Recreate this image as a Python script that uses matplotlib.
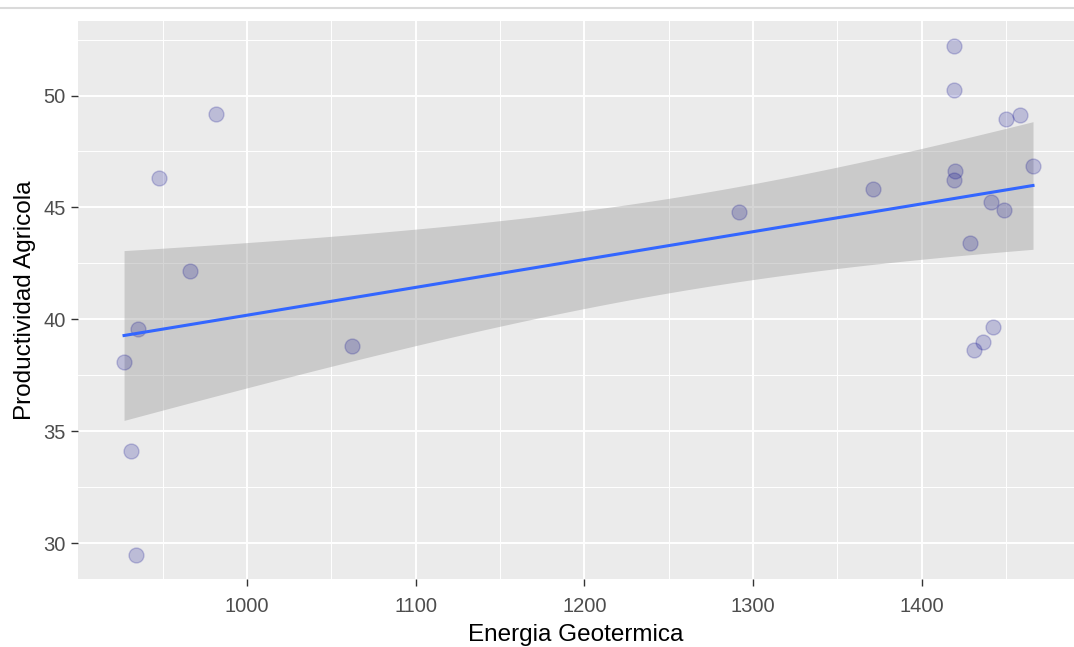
import numpy as np
import matplotlib
matplotlib.use("Agg")
import matplotlib.pyplot as plt
from matplotlib.lines import Line2D

# data
energia = [927.1, 931.2, 934.2, 935.4, 947.8, 966.2, 981.6, 1062.2,
           1291.6, 1371.0, 1419.1, 1419.1, 1419.7, 1419.1, 1428.6, 1431.0,
           1436.3, 1441.0, 1442.2, 1448.7, 1449.9, 1458.2, 1465.9]
productividad = [38.08, 34.14, 29.49, 39.55, 46.30, 42.15, 49.17, 38.80,
                 44.79, 45.82, 52.20, 50.25, 46.62, 46.22, 43.40, 38.61,
                 38.97, 45.23, 39.64, 44.88, 48.95, 49.13, 46.85]

x_ticks = [1000, 1100, 1200, 1300, 1400]
y_ticks = [30, 35, 40, 45, 50]

x = np.array(energia)
y = np.array(productividad)

# linear fit with 95% confidence band (like geom_smooth(method = "lm"))
n = len(x)
b1, b0 = np.polyfit(x, y, 1)
resid = y - (b0 + b1 * x)
s = np.sqrt(np.sum(resid ** 2) / (n - 2))
sxx = np.sum((x - x.mean()) ** 2)
t_crit = 2.0796  # t(0.975, df = 21)
xs = np.linspace(x.min(), x.max(), 80)
ys = b0 + b1 * xs
se = s * np.sqrt(1 / n + (xs - x.mean()) ** 2 / sxx)

plt.rcParams['font.family'] = ['Liberation Sans', 'DejaVu Sans']

fig = plt.figure(figsize=(10.74, 6.47), dpi=100)
ax = fig.add_axes([78 / 1074, 1 - 579 / 647, (1074 - 78) / 1074, (579 - 21) / 647])

ax.set_facecolor('#EBEBEB')
for sp in ax.spines.values():
    sp.set_visible(False)

ax.set_xlim(899.8, 1490.2)
ax.set_ylim(28.4, 53.33)

# grid, ggplot style
ax.set_xticks(x_ticks)
ax.set_yticks(y_ticks)
ax.set_xticks([950, 1050, 1150, 1250, 1350, 1450], minor=True)
ax.set_yticks([32.5, 37.5, 42.5, 47.5, 52.5], minor=True)
ax.grid(which='major', color='white', linewidth=1.4)
ax.grid(which='minor', color='white', linewidth=0.7)
ax.set_axisbelow(True)
ax.tick_params(which='minor', length=0)
ax.tick_params(which='major', length=5, width=1, color='#333333',
               labelcolor='#4D4D4D', labelsize=14.5, pad=4)
ax.tick_params(axis='x', which='major', pad=8)

ax.scatter(x, y, s=115, color='#00008B', alpha=0.2, linewidths=1,
           zorder=3)

ax.fill_between(xs, ys - t_crit * se, ys + t_crit * se, color='#999999',
                alpha=0.4, linewidth=0, zorder=2)
ax.plot(xs, ys, color='#3366FF', linewidth=2.2, zorder=4)

ax.set_xlabel('Energia Geotermica', fontsize=17.5, color='black', labelpad=6)
ax.set_ylabel('Productividad Agricola', fontsize=17.5, color='black', labelpad=5)

# thin separator line at the very top of the screenshot
fig.add_artist(Line2D([0, 1], [1 - 7.5 / 647] * 2, color='#DADADA', linewidth=1.5))

fig.savefig('out.png', dpi=100)
